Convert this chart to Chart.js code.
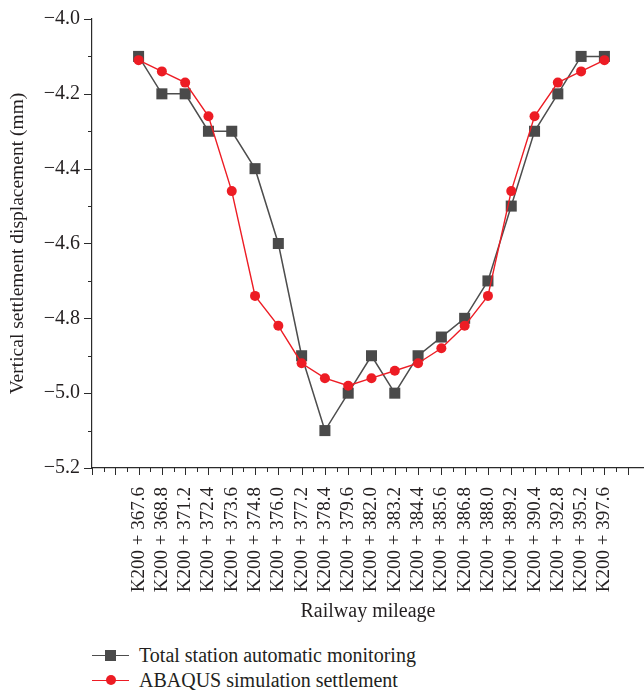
<!DOCTYPE html>
<html>
<head>
<meta charset="utf-8">
<script src="https://cdn.jsdelivr.net/npm/chart.js@4/dist/chart.umd.min.js"></script>
<style>
  body { margin: 0; background: #fff; }
  #wrap { position: relative; width: 644px; height: 630px; }
  #legende { position: absolute; left: 0; top: 643px; width: 644px; font-family: "Liberation Serif", serif; font-size: 20px; color: #231f20; }
  .item { position: relative; height: 25px; }
  .trait { position: absolute; left: 92px; top: 12px; width: 37px; height: 0; border-top: 1.5px solid; }
  .marque { position: absolute; left: 105px; top: 7px; width: 11px; height: 11px; }
  .texte { position: absolute; left: 139px; top: 0; line-height: 25px; white-space: nowrap; }
</style>
</head>
<body>
<div id="wrap"><canvas id="myChartTassement"></canvas></div>
<div id="legende">
  <div class="item">
    <span class="trait" style="border-color:#4d4d4d"></span>
    <span class="marque" style="background:#4a4a4a"></span>
    <span class="texte">Total station automatic monitoring</span>
  </div>
  <div class="item">
    <span class="trait" style="border-color:#ed1c24"></span>
    <span class="marque" style="background:#ed1c24;border-radius:50%;width:10px;height:10px;left:106px;top:7px"></span>
    <span class="texte">ABAQUS simulation settlement</span>
  </div>
</div>

<script>
//? Données.

const kilometrage = [
  "K200 + 367.6", "K200 + 368.8", "K200 + 371.2", "K200 + 372.4", "K200 + 373.6",
  "K200 + 374.8", "K200 + 376.0", "K200 + 377.2", "K200 + 378.4", "K200 + 379.6",
  "K200 + 382.0", "K200 + 383.2", "K200 + 384.4", "K200 + 385.6", "K200 + 386.8",
  "K200 + 388.0", "K200 + 389.2", "K200 + 390.4", "K200 + 392.8", "K200 + 395.2",
  "K200 + 397.6",
];

const valeursStationTotale = [
  -4.1, -4.2, -4.2, -4.3, -4.3, -4.4, -4.6, -4.9, -5.1, -5.0,
  -4.9, -5.0, -4.9, -4.85, -4.8, -4.7, -4.5, -4.3, -4.2, -4.1, -4.1,
];

const valeursAbaqus = [
  -4.11, -4.14, -4.17, -4.26, -4.46, -4.74, -4.82, -4.92, -4.96, -4.98,
  -4.96, -4.94, -4.92, -4.88, -4.82, -4.74, -4.46, -4.26, -4.17, -4.14, -4.11,
];

const ticksY = [-5.2, -5.0, -4.8, -4.6, -4.4, -4.2, -4.0];

//? -------------------------------------------------

const police = "'Liberation Serif', serif";
const couleurTexte = "#231f20";
const couleurAxe = "#2b2b2b";

const versPoints = (valeurs) => valeurs.map((y, i) => ({ x: i, y }));

const estMajeurX = (v) => Number.isInteger(v);
const estMajeurY = (v) => Math.round(v * 10) % 2 === 0;

// pas de marge automatique autour des axes
const sansMarge = (s) => {
  s.paddingTop = 0;
  s.paddingBottom = 0;
  s.paddingLeft = 0;
  s.paddingRight = 0;
};

//? Petits et grands traits de graduation.
const pluginGraduations = {
  id: "graduations",
  afterDraw(chart) {
    const ctx = chart.ctx;
    const { x, y } = chart.scales;
    ctx.save();
    ctx.strokeStyle = couleurAxe;
    ctx.lineWidth = 1;
    x.ticks.forEach((t) => {
      const px = Math.round(x.getPixelForValue(t.value)) + 0.5;
      const l = estMajeurX(t.value) ? 7 : 4;
      ctx.beginPath();
      ctx.moveTo(px, x.top);
      ctx.lineTo(px, x.top + l);
      ctx.stroke();
    });
    y.ticks.forEach((t) => {
      const py = Math.round(y.getPixelForValue(t.value)) + 0.5;
      const l = estMajeurY(t.value) ? 8 : 4;
      ctx.beginPath();
      ctx.moveTo(y.right, py);
      ctx.lineTo(y.right - l, py);
      ctx.stroke();
    });
    ctx.restore();
  },
};

const ctxTassement = document.getElementById("myChartTassement").getContext("2d");

new Chart(ctxTassement, {
  type: "line",
  data: {
    datasets: [
      {
        label: "Total station automatic monitoring",
        data: versPoints(valeursStationTotale),
        borderColor: "#4d4d4d",
        backgroundColor: "#4a4a4a",
        borderWidth: 1.5,
        pointStyle: "rect",
        pointRadius: 7.8,
        pointBorderWidth: 0,
        tension: 0,
        order: 1,
      },
      {
        label: "ABAQUS simulation settlement",
        data: versPoints(valeursAbaqus),
        borderColor: "#ed1c24",
        backgroundColor: "#ed1c24",
        borderWidth: 1.4,
        pointStyle: "circle",
        pointRadius: 5,
        pointBorderWidth: 0,
        tension: 0,
        order: 0,
      },
    ],
  },
  options: {
    responsive: true,
    maintainAspectRatio: false,
    animation: false,
    layout: { autoPadding: false, padding: { top: 19, right: 0, bottom: 0, left: 0 } },
    plugins: { legend: { display: false }, tooltip: { enabled: false } },
    scales: {
      x: {
        type: "linear",
        min: -2,
        max: 21.7,
        afterBuildTicks: (s) => {
          s.ticks = s.ticks.filter((t) => Math.abs(t.value * 2 - Math.round(t.value * 2)) < 1e-6);
        },
        afterFit: (s) => { s.height = 162; sansMarge(s); },
        grid: { display: false, drawTicks: false },
        border: { display: true, color: couleurAxe, width: 1.2 },
        ticks: {
          stepSize: 0.5,
          autoSkip: false,
          minRotation: 90,
          maxRotation: 90,
          padding: 19,
          color: couleurTexte,
          font: { family: police, size: 19 },
          callback: (v) => (estMajeurX(v) && v >= 0 && v < kilometrage.length ? kilometrage[v] : ""),
        },
        title: {
          display: true,
          text: "Railway mileage",
          color: couleurTexte,
          font: { family: police, size: 20 },
          padding: { top: 4, bottom: 6 },
        },
      },
      y: {
        min: -5.2,
        max: -4.0,
        afterBuildTicks: (s) => {
          s.ticks = [];
          for (let k = -52; k <= -40; k++) s.ticks.push({ value: k / 10 });
        },
        afterFit: (s) => { s.width = 92; sansMarge(s); },
        grid: { display: false, drawTicks: false },
        border: { display: true, color: couleurAxe, width: 1.2 },
        ticks: {
          padding: 12,
          color: couleurTexte,
          font: { family: police, size: 20 },
          callback: (v) => {
            const e = ticksY.find((t) => Math.abs(t - v) < 1e-6);
            return e === undefined ? "" : "\u2212" + Math.abs(e).toFixed(1);
          },
        },
        title: {
          display: true,
          text: "Vertical settlement displacement (mm)",
          color: couleurTexte,
          font: { family: police, size: 19.5 },
          padding: { top: 6, bottom: 0 },
        },
      },
    },
  },
  plugins: [pluginGraduations],
});
</script>
</body>
</html>
